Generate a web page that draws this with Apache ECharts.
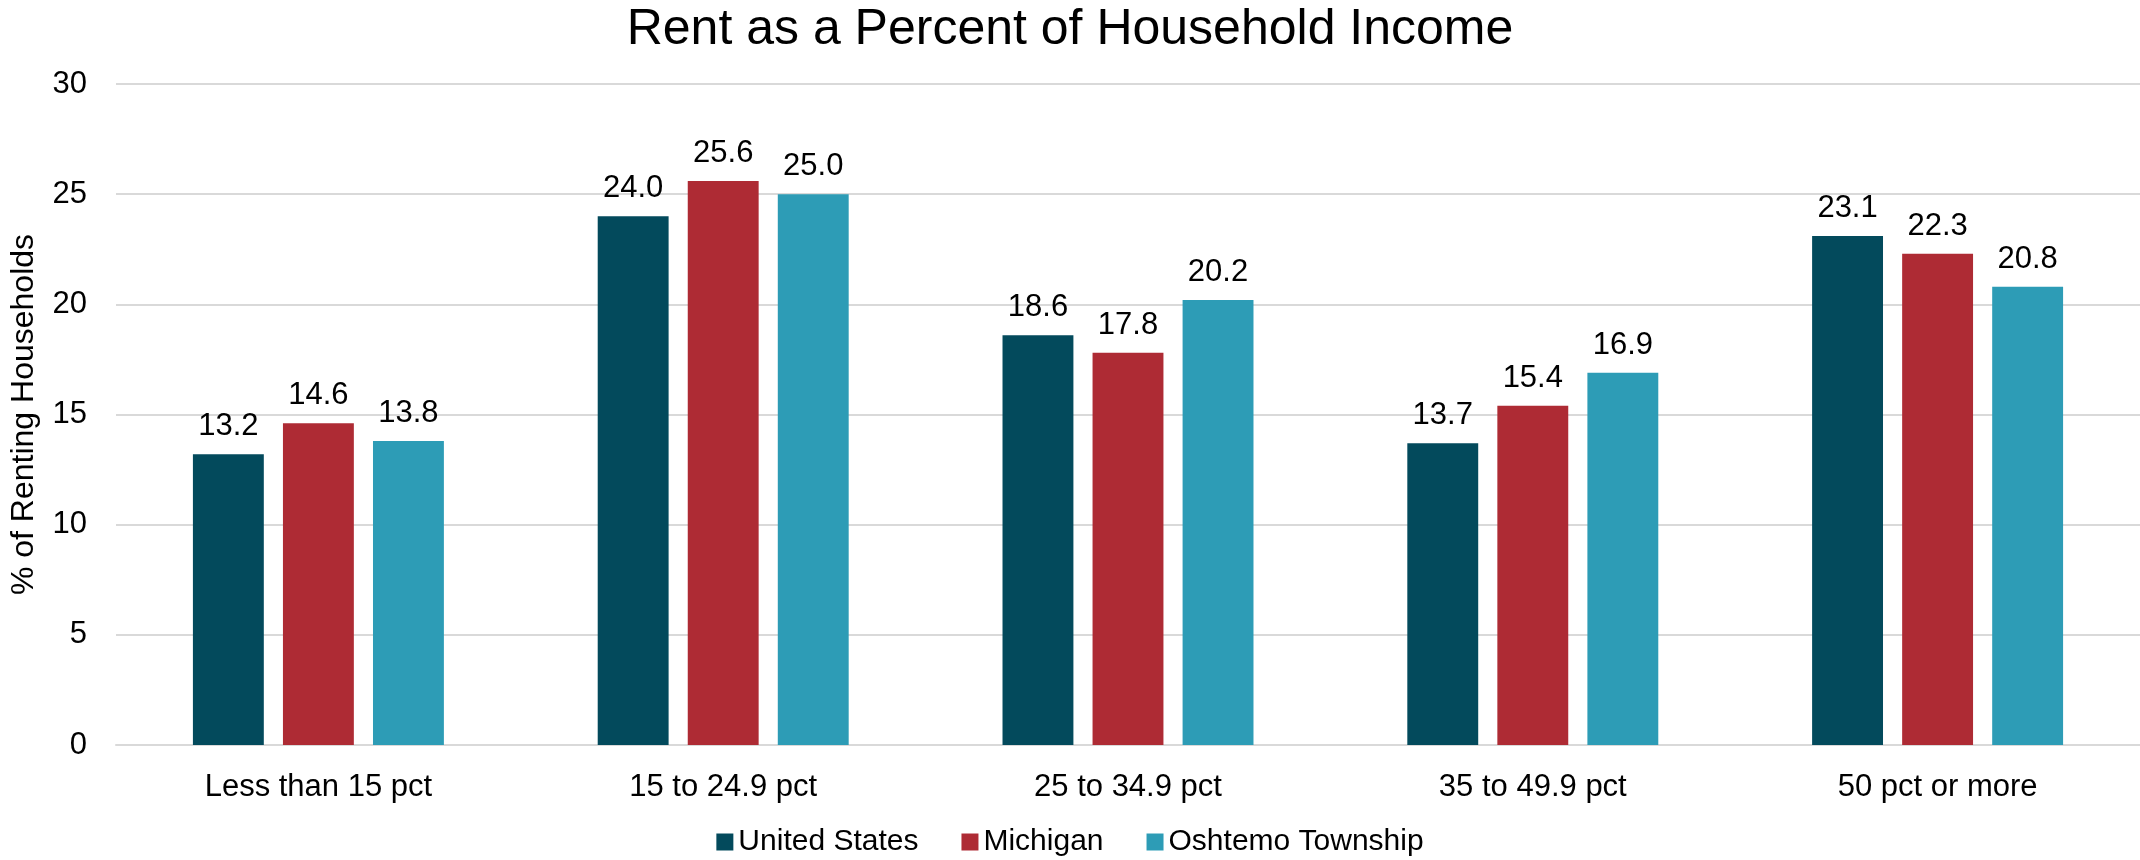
<!DOCTYPE html>
<html>
<head>
<meta charset="utf-8">
<script src="https://cdn.jsdelivr.net/npm/echarts@6/dist/echarts.min.js"></script>
<style>
html,body{margin:0;padding:0;background:#fff;}
#chart{width:2140px;height:860px;}
</style>
</head>
<body>
<div id="chart"></div>
<script>
var categories = ['Less than 15 pct', '15 to 24.9 pct', '25 to 34.9 pct', '35 to 49.9 pct', '50 pct or more'];
var seriesNames = ['United States', 'Michigan', 'Oshtemo Township'];
var unitedStates = [13.2, 24.0, 18.6, 13.7, 23.1];
var michigan = [14.6, 25.6, 17.8, 15.4, 22.3];
var oshtemo = [13.8, 25.0, 20.2, 16.9, 20.8];
var colors = ['#034a5c', '#ae2b34', '#2d9cb6'];
var titleText = 'Rent as a Percent of Household Income';
var yAxisName = '% of Renting Households';

var FONT = '"Liberation Sans", Arial, sans-serif';
var chart = echarts.init(document.getElementById('chart'), null, {renderer: 'canvas'});

function mk(name, data, color) {
  return {
    name: name,
    type: 'bar',
    data: data,
    barGap: '27%',
    barCategoryGap: '38%',
    itemStyle: {color: color},
    label: {
      show: true,
      position: 'top',
      distance: 12,
      color: '#000',
      fontFamily: FONT,
      fontSize: 31,
      formatter: function (p) { return p.value.toFixed(1); }
    }
  };
}

chart.setOption({
  animation: false,
  backgroundColor: '#fff',
  color: colors,
  title: {
    text: titleText,
    left: 'center',
    top: 0,
    textStyle: {fontFamily: FONT, fontSize: 50, fontWeight: 'normal', color: '#000'}
  },
  legend: {
    data: seriesNames,
    top: 822,
    left: 'center',
    itemWidth: 17,
    itemHeight: 17,
    itemGap: 43,
    icon: 'rect',
    textStyle: {fontFamily: FONT, fontSize: 30, color: '#000'}
  },
  grid: {left: 112, right: 0, top: 84, bottom: 115, containLabel: false},
  xAxis: {
    type: 'category',
    data: categories,
    axisLine: {show: true, lineStyle: {color: '#d9d9d9', width: 2}},
    axisTick: {show: false},
    axisLabel: {fontFamily: FONT, fontSize: 31, color: '#000', margin: 27}
  },
  yAxis: {
    type: 'value',
    min: 0,
    max: 30,
    interval: 5,
    name: yAxisName,
    nameLocation: 'middle',
    nameGap: 76,
    nameTextStyle: {fontFamily: FONT, fontSize: 32, color: '#000'},
    axisLine: {show: false},
    axisTick: {show: false},
    splitLine: {lineStyle: {color: '#d9d9d9', width: 2}},
    axisLabel: {fontFamily: FONT, fontSize: 31, color: '#000', margin: 29}
  },
  series: [
    mk(seriesNames[0], unitedStates, colors[0]),
    mk(seriesNames[1], michigan, colors[1]),
    mk(seriesNames[2], oshtemo, colors[2])
  ]
});
</script>
</body>
</html>
